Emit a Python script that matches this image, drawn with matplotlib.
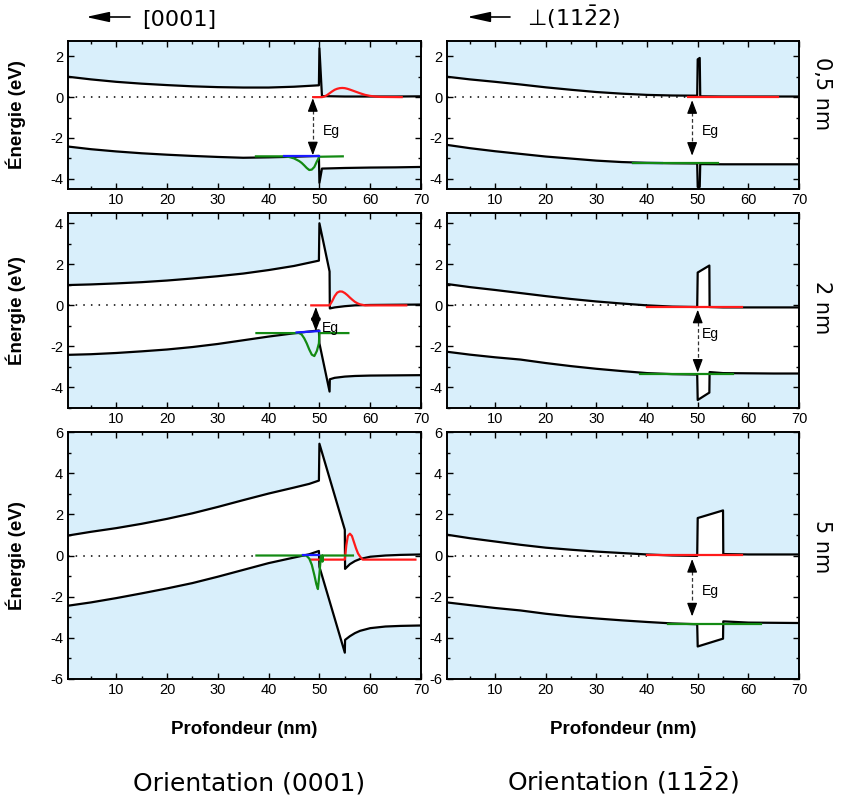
import matplotlib
matplotlib.use("Agg")
import matplotlib.pyplot as plt
from matplotlib.ticker import MultipleLocator
from matplotlib.patches import FancyArrowPatch

plt.rcParams['mathtext.fontset'] = 'dejavusans'
plt.rcParams['mathtext.default'] = 'regular'
plt.rcParams['axes.unicode_minus'] = False
plt.rcParams['font.family'] = ['Liberation Sans', 'DejaVu Sans']

# ---------------- DATA ----------------
# Panel A : (0001), 0.5 nm
x_A = [0.5, 5, 10, 15, 20, 25, 30, 35, 40, 45, 49.9, 50.0, 50.5, 55, 60, 65, 70]
cb_A = [1.00, 0.87, 0.75, 0.66, 0.59, 0.53, 0.49, 0.47, 0.47, 0.51, 0.58, 2.40, 0.05, 0.03, 0.03, 0.03, 0.04]
vb_A = [-2.42, -2.55, -2.66, -2.75, -2.82, -2.88, -2.93, -2.97, -2.95, -2.92, -2.88, -4.20, -3.50, -3.47, -3.45, -3.44, -3.42]
red_x_A = [48.8, 50.5, 51.0, 51.5, 52, 52.5, 53, 53.5, 54, 54.5, 55, 55.5, 56, 57, 58, 59, 60, 61, 62, 66.2]
red_y_A = [0, 0, 0.03, 0.10, 0.19, 0.28, 0.36, 0.41, 0.44, 0.45, 0.44, 0.41, 0.37, 0.28, 0.19, 0.11, 0.06, 0.03, 0.01, 0]
green_x_A = [37.5, 43, 44, 45, 46, 46.5, 47, 47.5, 48, 48.5, 49, 49.5, 50, 54.6]
green_y_A = [-2.9, -2.9, -2.93, -3.0, -3.13, -3.22, -3.34, -3.47, -3.57, -3.55, -3.42, -3.15, -2.92, -2.9]
blue_x_A = [43, 50]
blue_y_A = [-2.88, -2.88]

# Panel B : (11-22), 0.5 nm
x_B = [0.5, 5, 10, 15, 20, 25, 30, 35, 40, 45, 49.9, 50.0, 50.4, 50.5, 55, 60, 65, 70]
cb_B = [1.00, 0.87, 0.75, 0.62, 0.48, 0.36, 0.25, 0.17, 0.11, 0.08, 0.07, 1.85, 1.92, 0.04, 0.03, 0.03, 0.03, 0.03]
vb_B = [-2.34, -2.50, -2.65, -2.78, -2.91, -3.01, -3.11, -3.18, -3.22, -3.24, -3.25, -4.40, -4.40, -3.28, -3.29, -3.29, -3.29, -3.29]
red_x_B = [48.1, 65.9]
red_y_B = [0.02, 0.02]
green_x_B = [37.3, 54.0]
green_y_B = [-3.21, -3.21]
blue_x_B = [37.3, 43]
blue_y_B = [-3.25, -3.25]

# Panel C : (0001), 2 nm
x_C = [0.5, 5, 10, 15, 20, 25, 30, 35, 40, 45, 49.9, 50.0, 52.0, 52.05, 53, 55, 57, 60, 65, 70]
cb_C = [0.99, 1.02, 1.07, 1.13, 1.21, 1.31, 1.42, 1.55, 1.72, 1.92, 2.18, 4.00, 1.65, -0.15, -0.10, -0.04, 0.00, 0.02, 0.03, 0.04]
vb_C = [-2.41, -2.38, -2.32, -2.24, -2.15, -2.03, -1.88, -1.70, -1.52, -1.36, -1.22, -1.85, -4.20, -3.60, -3.53, -3.47, -3.44, -3.42, -3.41, -3.40]
red_x_C = [48.4, 52.0, 52.5, 53, 53.5, 54, 54.5, 55, 55.5, 56, 56.5, 57, 57.5, 58, 59, 67.1]
red_y_C = [0, 0, 0.2, 0.45, 0.62, 0.68, 0.67, 0.60, 0.50, 0.38, 0.27, 0.17, 0.10, 0.05, 0.0, 0]
green_x_C = [37.6, 46.0, 46.5, 47, 47.5, 48, 48.5, 49, 49.5, 49.9, 50.0, 55.7]
green_y_C = [-1.35, -1.35, -1.42, -1.60, -1.85, -2.15, -2.40, -2.47, -2.22, -1.85, -1.35, -1.35]
blue_x_C = [45.5, 50]
blue_y_C = [-1.32, -1.25]

# Panel D : (11-22), 2 nm
x_D = [0.5, 5, 10, 15, 20, 25, 30, 35, 40, 45, 49.9, 50.0, 52.3, 52.35, 55, 60, 65, 70]
cb_D = [1.04, 0.89, 0.75, 0.60, 0.45, 0.31, 0.19, 0.09, 0.00, -0.06, -0.08, 1.60, 1.94, -0.08, -0.10, -0.10, -0.10, -0.10]
vb_D = [-2.26, -2.40, -2.53, -2.64, -2.81, -2.96, -3.09, -3.20, -3.30, -3.35, -3.37, -4.61, -4.25, -3.25, -3.30, -3.31, -3.32, -3.32]
red_x_D = [39.9, 58.7]
red_y_D = [-0.08, -0.08]
green_x_D = [38.6, 57.0]
green_y_D = [-3.33, -3.33]

# Panel E : (0001), 5 nm
x_E = [0.5, 5, 10, 15, 20, 25, 30, 35, 40, 45, 48, 49.9, 50.0, 55.0, 55.05, 56, 57, 58, 60, 63, 66, 70]
cb_E = [0.97, 1.15, 1.33, 1.54, 1.78, 2.05, 2.36, 2.69, 3.01, 3.30, 3.48, 3.64, 5.43, 1.25, -0.65, -0.42, -0.27, -0.17, -0.06, 0.00, 0.03, 0.05]
vb_E = [-2.44, -2.28, -2.07, -1.84, -1.60, -1.34, -1.03, -0.70, -0.37, -0.10, 0.06, 0.22, -0.55, -4.72, -4.10, -3.92, -3.77, -3.66, -3.53, -3.45, -3.42, -3.40]
red_x_E = [48.4, 55.0, 55.3, 55.6, 56.0, 56.4, 56.8, 57.2, 57.6, 58.0, 58.5, 68.9]
red_y_E = [-0.2, -0.2, 0.5, 0.95, 1.06, 0.95, 0.65, 0.35, 0.10, -0.05, -0.2, -0.2]
green_x_E = [37.6, 47.4, 48.0, 48.5, 49.0, 49.4, 49.7, 50.0, 50.3, 50.55, 50.6, 50.7, 56.6]
green_y_E = [0, 0, -0.15, -0.45, -0.95, -1.40, -1.63, -0.9, 0.0, 0.0, -0.3, 0.0, 0]
blue_x_E = [46.8, 50]
blue_y_E = [0.02, 0.02]

# Panel F : (11-22), 5 nm
x_F = [0.5, 5, 10, 15, 20, 25, 30, 35, 40, 45, 49.9, 50.0, 55.0, 55.05, 60, 65, 70]
cb_F = [1.01, 0.84, 0.68, 0.52, 0.38, 0.28, 0.19, 0.12, 0.05, 0.00, -0.02, 1.82, 2.19, 0.07, 0.05, 0.05, 0.05]
vb_F = [-2.28, -2.41, -2.55, -2.67, -2.83, -2.96, -3.06, -3.15, -3.23, -3.30, -3.34, -4.42, -4.04, -3.20, -3.26, -3.27, -3.28]
red_x_F = [39.9, 58.7]
red_y_F = [0.03, 0.03]
green_x_F = [44.2, 62.4]
green_y_F = [-3.33, -3.33]

# Eg arrows: (x, top tip, bottom tip, label x, label y)
eg_A = (48.7, -0.05, -2.85, 50.6, -1.65)
eg_B = (48.9, -0.15, -2.87, 50.9, -1.64)
eg_C = (49.3, -0.08, -1.26, 50.4, -1.10)
eg_D = (50.0, -0.21, -3.28, 50.9, -1.39)
eg_F = (48.9, -0.17, -2.96, 50.9, -1.74)

dot_end = {'A': 48.8, 'B': 48.1, 'C': 48.4, 'D': 39.9, 'E': 37.6, 'F': 39.9}

row_labels = ["0,5 nm", "2 nm", "5 nm"]
col_titles = ["[0001]", "\u22a5(11$\\bar{2}$2)"]
bottom_titles = ["Orientation (0001)", "Orientation (11$\\bar{2}$2)"]
ylims = [(-4.5, 2.75), (-5, 4.5), (-6, 6)]

panels = [
    [dict(x=x_A, cb=cb_A, vb=vb_A, red=(red_x_A, red_y_A), green=(green_x_A, green_y_A),
          blue=(blue_x_A, blue_y_A), blue_top=True, eg=eg_A, dot=dot_end['A']),
     dict(x=x_B, cb=cb_B, vb=vb_B, red=(red_x_B, red_y_B), green=(green_x_B, green_y_B),
          blue=(blue_x_B, blue_y_B), blue_top=False, eg=eg_B, dot=dot_end['B'])],
    [dict(x=x_C, cb=cb_C, vb=vb_C, red=(red_x_C, red_y_C), green=(green_x_C, green_y_C),
          blue=(blue_x_C, blue_y_C), blue_top=True, eg=eg_C, dot=dot_end['C']),
     dict(x=x_D, cb=cb_D, vb=vb_D, red=(red_x_D, red_y_D), green=(green_x_D, green_y_D),
          blue=None, blue_top=False, eg=eg_D, dot=dot_end['D'])],
    [dict(x=x_E, cb=cb_E, vb=vb_E, red=(red_x_E, red_y_E), green=(green_x_E, green_y_E),
          blue=(blue_x_E, blue_y_E), blue_top=True, eg=None, dot=dot_end['E']),
     dict(x=x_F, cb=cb_F, vb=vb_F, red=(red_x_F, red_y_F), green=(green_x_F, green_y_F),
          blue=None, blue_top=False, eg=eg_F, dot=dot_end['F'])],
]

# ---------------- LAYOUT ----------------
W, H = 842, 798
fig = plt.figure(figsize=(W / 100, H / 100), dpi=100)
col_px = [(68, 421), (447, 799)]
row_px = [(41, 189), (213, 408), (432, 679)]

BG = '#d9effb'
RED = '#ff1a1a'
GREEN = '#138a13'
BLUE = '#1a1aff'

for r in range(3):
    for c in range(2):
        x0, x1 = col_px[c]
        t, b = row_px[r]
        ax = fig.add_axes([x0 / W, 1 - b / H, (x1 - x0) / W, (b - t) / H])
        p = panels[r][c]
        ax.set_facecolor(BG)
        ax.fill_between(p['x'], p['vb'], p['cb'], color='white', lw=0, zorder=1)
        ax.plot([0.5, p['dot']], [0, 0], color='black', lw=1.1, ls=(0, (1, 4)), zorder=2)
        ax.plot(p['x'], p['cb'], color='black', lw=1.6, zorder=3)
        ax.plot(p['x'], p['vb'], color='black', lw=1.6, zorder=3)
        ax.plot(*p['red'], color=RED, lw=1.6, zorder=5)
        ax.plot(*p['green'], color=GREEN, lw=1.6, zorder=5)
        if p['blue'] is not None:
            ax.plot(*p['blue'], color=BLUE, lw=1.6, zorder=6 if p['blue_top'] else 4)
        if p['eg'] is not None:
            ex, et, eb, tx, ty = p['eg']
            ax.plot([ex, ex], [et - 0.3, eb + 0.3], color='#333333', lw=0.9,
                    ls=(0, (3, 2)), zorder=4)
            for tip, frm in ((et, et - 0.4), (eb, eb + 0.4)):
                ax.annotate('', xy=(ex, tip), xytext=(ex, frm),
                            arrowprops=dict(arrowstyle='-|>,head_length=0.45,head_width=0.17',
                                            color='black', lw=0.9, mutation_scale=18,
                                            shrinkA=0, shrinkB=0), zorder=6)
            ax.text(tx, ty, 'Eg', fontsize=10, va='center', ha='left', zorder=7)

        ax.set_xlim(0.5, 70)
        ax.set_ylim(*ylims[r])
        ax.xaxis.set_major_locator(MultipleLocator(10))
        ax.xaxis.set_minor_locator(MultipleLocator(5))
        ax.yaxis.set_major_locator(MultipleLocator(2))
        ax.yaxis.set_minor_locator(MultipleLocator(1))
        ax.tick_params(which='both', direction='in', top=True, right=True, width=1.0)
        ax.tick_params(which='major', length=4)
        ax.tick_params(which='minor', length=2.5)
        ax.tick_params(axis='x', labelsize=10.5, pad=3)
        ax.tick_params(axis='y', labelsize=10.5, pad=3.5)
        for s in ax.spines.values():
            s.set_linewidth(1.4)
        if c == 0:
            ax.set_ylabel('Énergie (eV)', fontsize=13.5, fontweight='bold')
            ax.yaxis.set_label_coords(-0.12, 0.5)
        if r == 2:
            ax.set_xlabel('Profondeur (nm)', fontsize=13.5, fontweight='bold')
            ax.xaxis.set_label_coords(0.5, -0.17)

# right row labels
for r, (lbl, yc) in enumerate(zip(row_labels, [94, 308, 547])):
    fig.text(822 / W, 1 - yc / H, lbl, rotation=-90, ha='center', va='center',
             fontsize=15, family='DejaVu Sans')

# top direction labels with arrows
for (a0, a1, tx), title in zip([(86, 130, 142), (467, 510, 527)], col_titles):
    arr = FancyArrowPatch((a1 / W, 1 - 17 / H), (a0 / W, 1 - 17 / H), transform=fig.transFigure,
                          arrowstyle='-|>,head_length=1.0,head_width=0.22', mutation_scale=14,
                          color='black', lw=1.2, shrinkA=0, shrinkB=0)
    fig.patches.append(arr)
    fig.text(tx / W, 1 - 26 / H, title, ha='left', va='baseline', fontsize=16,
             family='DejaVu Sans')

# bottom orientation titles
for xc, title in zip([249, 623], bottom_titles):
    fig.text(xc / W, 1 - 791 / H, title, ha='center', va='baseline', fontsize=18,
             family='DejaVu Sans')

fig.savefig('out.png', dpi=100)
